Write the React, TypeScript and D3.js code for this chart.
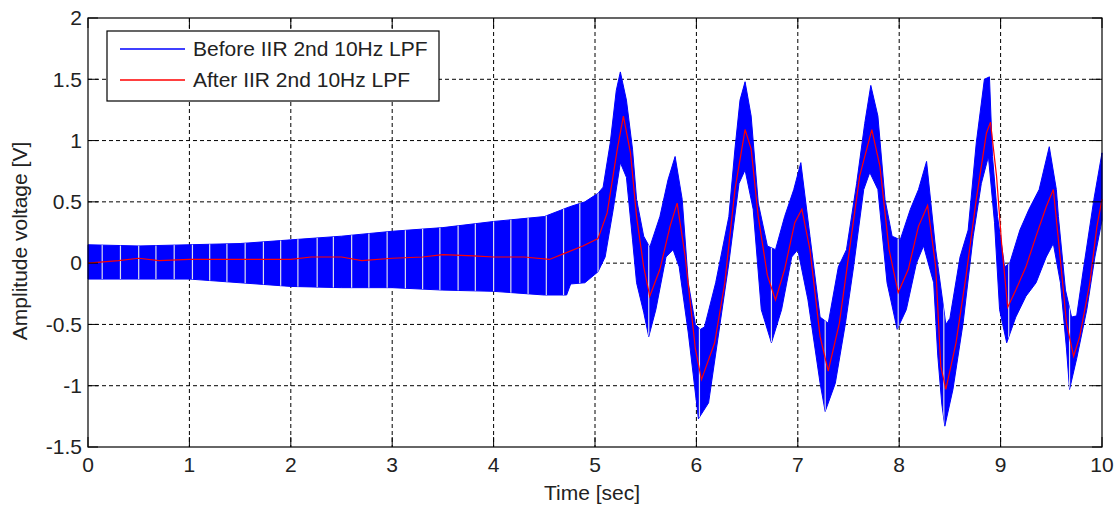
import * as d3 from 'd3';

// blue (before filter) envelope: [time, value]
const beforeUpper: [number, number][] = [
  [0, 0.15], [0.5, 0.14], [1.0, 0.15], [1.5, 0.16], [2.0, 0.19], [2.5, 0.22],
  [3.0, 0.26], [3.5, 0.29], [4.0, 0.34], [4.5, 0.38], [4.75, 0.46], [4.9, 0.5],
  [5.03, 0.57], [5.08, 0.62], [5.15, 0.98], [5.21, 1.41], [5.25, 1.56], [5.31, 1.33],
  [5.37, 0.93], [5.41, 0.52], [5.48, 0.22], [5.54, 0.13], [5.64, 0.38], [5.72, 0.68],
  [5.79, 0.87], [5.86, 0.52], [5.92, -0.16], [5.99, -0.5], [6.04, -0.54], [6.08, -0.52],
  [6.19, -0.16], [6.32, 0.38], [6.38, 0.93], [6.43, 1.33], [6.48, 1.48], [6.54, 1.2],
  [6.61, 0.49], [6.7, 0.14], [6.78, 0.11], [6.87, 0.38], [6.96, 0.6], [7.03, 0.82],
  [7.12, 0.22], [7.22, -0.44], [7.3, -0.49], [7.4, -0.03], [7.48, 0.11], [7.58, 0.65],
  [7.66, 1.14], [7.72, 1.45], [7.79, 1.2], [7.86, 0.52], [7.93, 0.22], [8.01, 0.19],
  [8.11, 0.44], [8.19, 0.6], [8.27, 0.83], [8.36, 0.11], [8.46, -0.5], [8.5, -0.45],
  [8.6, 0.05], [8.68, 0.27], [8.76, 0.98], [8.84, 1.5], [8.89, 1.52], [8.92, 0.87],
  [8.97, 0.38], [9.04, -0.03], [9.09, 0.0], [9.19, 0.27], [9.28, 0.44], [9.38, 0.6],
  [9.48, 0.95], [9.55, 0.6], [9.57, 0.38], [9.64, -0.22], [9.7, -0.44], [9.75, -0.43],
  [9.82, -0.03], [9.92, 0.52], [10, 0.9],
];

const beforeLower: [number, number][] = [
  [0, -0.13], [0.5, -0.13], [1.0, -0.13], [1.5, -0.16], [2.0, -0.19], [2.5, -0.2],
  [3.0, -0.2], [3.5, -0.22], [4.0, -0.23], [4.5, -0.26], [4.72, -0.26], [4.76, -0.17],
  [4.9, -0.16], [5.03, -0.07], [5.1, 0.05], [5.18, 0.44], [5.25, 0.82], [5.31, 0.7],
  [5.37, 0.19], [5.41, -0.16], [5.48, -0.4], [5.53, -0.6], [5.6, -0.38], [5.7, 0.05],
  [5.77, 0.11], [5.83, -0.03], [5.92, -0.57], [6.02, -1.27], [6.12, -1.14], [6.22, -0.57],
  [6.32, 0.0], [6.42, 0.65], [6.48, 0.76], [6.56, 0.44], [6.64, -0.38], [6.74, -0.65],
  [6.84, -0.38], [6.94, 0.05], [7.0, 0.11], [7.1, -0.3], [7.22, -0.98], [7.27, -1.21],
  [7.37, -0.98], [7.47, -0.49], [7.55, -0.03], [7.65, 0.6], [7.71, 0.74], [7.79, 0.6],
  [7.88, -0.16], [7.98, -0.54], [8.07, -0.38], [8.17, 0.0], [8.24, 0.14], [8.34, -0.16],
  [8.38, -0.75], [8.42, -1.15], [8.45, -1.33], [8.53, -1.03], [8.63, -0.49], [8.73, 0.22],
  [8.81, 0.65], [8.88, 0.87], [8.94, 0.33], [8.99, -0.38], [9.06, -0.65], [9.15, -0.44],
  [9.25, -0.27], [9.35, -0.16], [9.45, 0.05], [9.52, 0.16], [9.59, -0.16], [9.65, -0.7],
  [9.68, -1.03], [9.75, -0.78], [9.85, -0.38], [9.93, 0.05], [10, 0.35],
];

// light gaps visible inside the blue band
const gapTimes = [
  0.14, 0.32, 0.5, 0.67, 0.85, 1.03, 1.2, 1.37, 1.55, 1.73, 1.9, 2.07, 2.26, 2.42,
  2.6, 2.77, 2.95, 3.13, 3.3, 3.47, 3.65, 3.82, 4.0, 4.17, 4.34, 4.52, 4.69, 4.85, 5.03,
  5.53, 6.03, 6.74, 7.27, 7.99, 8.44, 9.08, 9.68,
];

// red (after filter) line
const afterFilter: [number, number][] = [
  [0, 0.0], [0.3, 0.02], [0.5, 0.04], [0.7, 0.02], [1.0, 0.03], [1.5, 0.03], [2.0, 0.03],
  [2.2, 0.05], [2.5, 0.05], [2.7, 0.02], [3.0, 0.04], [3.3, 0.05], [3.5, 0.07], [3.8, 0.06],
  [4.0, 0.05], [4.3, 0.05], [4.55, 0.03], [4.7, 0.08], [4.88, 0.14], [5.03, 0.2], [5.12, 0.41],
  [5.22, 0.93], [5.28, 1.2], [5.35, 0.9], [5.41, 0.38], [5.48, -0.03], [5.54, -0.27],
  [5.64, -0.05], [5.74, 0.3], [5.81, 0.49], [5.89, 0.05], [5.99, -0.7], [6.05, -0.95],
  [6.18, -0.65], [6.28, -0.16], [6.38, 0.6], [6.48, 1.09], [6.54, 0.93], [6.61, 0.38],
  [6.7, -0.1], [6.78, -0.3], [6.87, -0.05], [6.97, 0.33], [7.04, 0.44], [7.12, 0.11],
  [7.22, -0.6], [7.3, -0.88], [7.41, -0.49], [7.51, 0.11], [7.61, 0.71], [7.73, 1.09],
  [7.81, 0.79], [7.9, 0.11], [7.99, -0.24], [8.09, -0.05], [8.19, 0.3], [8.28, 0.47],
  [8.36, -0.03], [8.41, -0.84], [8.46, -1.03], [8.56, -0.65], [8.66, -0.1], [8.76, 0.52],
  [8.86, 1.06], [8.9, 1.15], [8.96, 0.71], [9.01, 0.16], [9.07, -0.36], [9.15, -0.22],
  [9.25, -0.03], [9.35, 0.22], [9.45, 0.46], [9.52, 0.6], [9.58, 0.11], [9.65, -0.49],
  [9.72, -0.76], [9.78, -0.6], [9.88, -0.16], [9.95, 0.3], [10, 0.52],
];

const xTicks = [0, 1, 2, 3, 4, 5, 6, 7, 8, 9, 10];
const yTicks = [-1.5, -1, -0.5, 0, 0.5, 1, 1.5, 2];

const legendItems = [
  { label: 'Before IIR 2nd 10Hz LPF', color: '#0000ff' },
  { label: 'After IIR 2nd 10Hz LPF', color: '#ff0000' },
];

export default function App() {
  const width = 1120;
  const height = 509;
  const left = 88, right = 1102, top = 18, bottom = 447;
  const font = '"Liberation Sans", Arial, Helvetica, sans-serif';
  const fs = 21;

  const x = d3.scaleLinear().domain([0, 10]).range([left, right]);
  const y = d3.scaleLinear().domain([-1.5, 2]).range([bottom, top]);

  const line = d3.line<[number, number]>().x(d => x(d[0])).y(d => y(d[1]));
  const bandPath = line([...beforeUpper, ...beforeLower.slice().reverse()]) + 'Z';
  const redPath = line(afterFilter) || '';
  const tickLen = 10;

  return (
    <div style={{ position: 'absolute', left: 0, top: 0, background: 'white' }}>
      <svg width={width} height={height} style={{ display: 'block', fontFamily: font }}>
        <defs>
          <clipPath id="band">
            <path d={bandPath} />
          </clipPath>
        </defs>
        <rect x={0} y={0} width={width} height={height} fill="white" />

        {/* grid */}
        {xTicks.slice(1, -1).map(t => (
          <line key={'gx' + t} x1={x(t)} x2={x(t)} y1={top} y2={bottom}
            stroke="#000" strokeWidth={1} strokeDasharray="4,3" />
        ))}
        {yTicks.slice(1, -1).map(t => (
          <line key={'gy' + t} x1={left} x2={right} y1={y(t)} y2={y(t)}
            stroke="#000" strokeWidth={1} strokeDasharray="4,3" />
        ))}

        {/* blue signal band */}
        <path d={bandPath} fill="#0000ff" stroke="#0000ff" strokeWidth={1} />
        <g clipPath="url(#band)">
          {gapTimes.map(t => (
            <line key={'gap' + t} x1={x(t)} x2={x(t)} y1={top} y2={bottom}
              stroke="#dcdcec" strokeWidth={1.2} />
          ))}
        </g>

        {/* red filtered line */}
        <path d={redPath} fill="none" stroke="#ff0000" strokeWidth={1.2} />

        {/* axes box and ticks */}
        <rect x={left} y={top} width={right - left} height={bottom - top}
          fill="none" stroke="#000" strokeWidth={1.2} />
        {xTicks.map(t => (
          <g key={'tx' + t}>
            <line x1={x(t)} x2={x(t)} y1={bottom} y2={bottom - tickLen} stroke="#000" />
            <line x1={x(t)} x2={x(t)} y1={top} y2={top + tickLen} stroke="#000" />
            <text x={x(t)} y={472} textAnchor="middle" fontSize={fs} fill="#222">{t}</text>
          </g>
        ))}
        {yTicks.map(t => (
          <g key={'ty' + t}>
            <line x1={left} x2={left + tickLen} y1={y(t)} y2={y(t)} stroke="#000" />
            <line x1={right} x2={right - tickLen} y1={y(t)} y2={y(t)} stroke="#000" />
            <text x={82} y={y(t)} dy="0.35em" textAnchor="end" fontSize={fs} fill="#222">{t}</text>
          </g>
        ))}

        {/* axis labels */}
        <text x={592} y={500} textAnchor="middle" fontSize={fs} fill="#222">Time [sec]</text>
        <text transform={`translate(27,241) rotate(-90)`} textAnchor="middle"
          fontSize={fs} fill="#222">Amplitude voltage [V]</text>

        {/* legend */}
        <rect x={107} y={31} width={332} height={70} fill="white" stroke="#000" strokeWidth={1.2} />
        {legendItems.map((d, i) => (
          <g key={d.label} transform={`translate(0,${49 + i * 31})`}>
            <line x1={120} x2={185} y1={0} y2={0} stroke={d.color} strokeWidth={1.5} />
            <text x={193} y={0} dy="0.35em" fontSize={fs} fill="#222">{d.label}</text>
          </g>
        ))}
      </svg>
    </div>
  );
}
